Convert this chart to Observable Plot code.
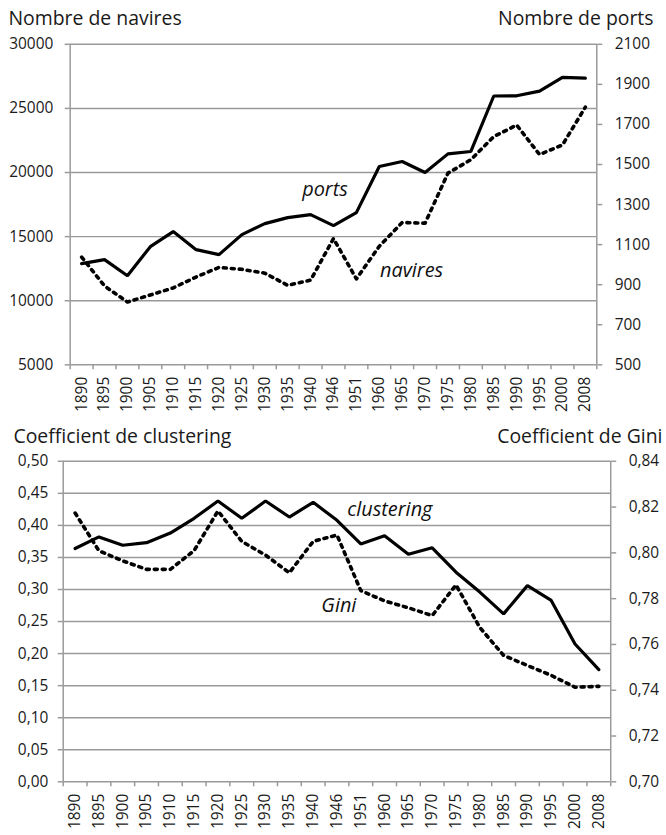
<!DOCTYPE html>
<html>
<head>
<meta charset="utf-8">
<script src="https://cdn.jsdelivr.net/npm/d3@7"></script>
<script src="https://cdn.jsdelivr.net/npm/@observablehq/plot@0.6"></script>
<style>
  html, body { margin: 0; padding: 0; background: #fff; }
  #chart { width: 663px; height: 835px; overflow: hidden; }
  #chart svg { display: block; }
</style>
</head>
<body>
<div id="chart"></div>
<script>
// Categories (x axis)
const years = ["1890","1895","1900","1905","1910","1915","1920","1925","1930","1935","1940","1946","1951","1960","1965","1970","1975","1980","1985","1990","1995","2000","2008"];

// Top chart: number of ships (left axis) and number of ports (right axis)
const navires = [13400,11150,9900,10450,11000,11850,12600,12450,12150,11200,11600,14850,11700,14250,16100,16050,19950,21000,22800,23700,21400,22150,25100];
const ports   = [1005,1025,945,1090,1165,1075,1050,1150,1205,1235,1250,1195,1260,1490,1515,1460,1553,1565,1842,1843,1866,1935,1931];

// Bottom chart: clustering coefficient (left axis) and Gini coefficient (right axis)
const clustering = [0.364,0.382,0.369,0.373,0.388,0.411,0.438,0.411,0.438,0.413,0.436,0.408,0.371,0.384,0.355,0.365,0.327,0.296,0.262,0.306,0.283,0.215,0.175];
const gini       = [0.8174,0.8009,0.7965,0.7928,0.7928,0.801,0.8183,0.805,0.799,0.7913,0.805,0.8078,0.7835,0.779,0.776,0.7726,0.786,0.7674,0.7552,0.7508,0.7465,0.7413,0.7417];

// Tick values
const naviresTicks = [5000,10000,15000,20000,25000,30000];
const portsTicks = [500,700,900,1100,1300,1500,1700,1900,2100];
const clusteringTicks = [0,0.05,0.10,0.15,0.20,0.25,0.30,0.35,0.40,0.45,0.50];
const giniTicks = [0.70,0.72,0.74,0.76,0.78,0.80,0.82,0.84];

const FONT = "'Open Sans', 'Noto Sans', sans-serif";
const GRID = "#9a9a9a";
const idx = years.map((_, i) => i);
const bounds = d3.range(years.length + 1).map(i => i - 0.5);

// right-axis mappings onto the left scale
const portsToLeft = d3.scaleLinear().domain([500, 2100]).range([5000, 30000]);
const giniToLeft = d3.scaleLinear().domain([0.70, 0.84]).range([0, 0.5]);
const comma = f => d => d3.format(f)(d).replace(".", ",");

const topData = years.map((y, i) => ({i, navires: navires[i], ports: portsToLeft(ports[i])}));
const botData = years.map((y, i) => ({i, clustering: clustering[i], gini: giniToLeft(gini[i])}));

function chart({height, mt, mb, ml, mr, yDomain, leftTicks, leftFmt, rightTicks, rightFmt, padL, padR,
                solid, dotted, titleL, titleR, tlDx, trDx, titleDy, lab1, lab2}) {
  return Plot.plot({
    width: 666,
    style: {fontFamily: FONT, fontSize: "15.5px", color: "#1a1a1a", background: "#fff", overflow: "visible"},
    height, marginTop: mt, marginBottom: mb, marginLeft: ml, marginRight: mr,
    x: {type: "linear", domain: [-0.5, years.length - 0.5], axis: null},
    y: {domain: yDomain, axis: null},
    marks: [
      Plot.ruleY(leftTicks, {stroke: GRID, strokeWidth: 1.5}),
      Plot.ruleX([-0.5, years.length - 0.5], {stroke: GRID, strokeWidth: 1.5}),
      Plot.axisY(leftTicks, {anchor: "left", tickSize: 5, tickPadding: padL, stroke: GRID, strokeWidth: 1.5, fill: "#1a1a1a", tickFormat: leftFmt, label: null}),
      Plot.axisY(rightTicks.map(rightFmt.map), {anchor: "right", tickSize: 5, tickPadding: padR, stroke: GRID, strokeWidth: 1.5, fill: "#1a1a1a", tickFormat: d => rightFmt.fmt(rightFmt.map.invert(d)), label: null}),
      Plot.axisX(bounds, {anchor: "bottom", tickSize: 5, stroke: GRID, strokeWidth: 1.5, tickFormat: () => "", label: null}),
      Plot.axisX(idx, {anchor: "bottom", tickSize: 0, tickPadding: 12, tickRotate: -90, fill: "#1a1a1a", tickFormat: d => years[d], label: null}),
      Plot.line(dotted.data, {x: "i", y: dotted.key, stroke: "#000", strokeWidth: 3.6, strokeDasharray: "3,5", curve: "linear"}),
      Plot.line(solid.data, {x: "i", y: solid.key, stroke: "#000", strokeWidth: 3.2, strokeLinejoin: "miter"}),
      Plot.text([lab1], {x: "x", y: "y", text: "t", fontStyle: "italic", fontSize: 20, fill: "#111"}),
      Plot.text([lab2], {x: "x", y: "y", text: "t", fontStyle: "italic", fontSize: 20, fill: "#111"}),
      Plot.text([titleL], {frameAnchor: "top-left", textAnchor: "start", lineAnchor: "bottom", dx: tlDx, dy: titleDy, fontSize: 19.5, fill: "#1a1a1a"}),
      Plot.text([titleR], {frameAnchor: "top-right", textAnchor: "end", lineAnchor: "bottom", dx: trDx, dy: titleDy, fontSize: 19.5, fill: "#1a1a1a"})
    ]
  });
}

const topChart = chart({
  height: 415, mt: 44, mb: 49, ml: 70, mr: 67,
  yDomain: [5000, 30000],
  leftTicks: naviresTicks, leftFmt: d => String(d), padL: 12, padR: 13,
  rightTicks: portsTicks, rightFmt: {map: portsToLeft, fmt: d => String(Math.round(d))},
  solid: {data: topData, key: "ports"}, dotted: {data: topData, key: "navires"},
  titleL: "Nombre de navires", titleR: "Nombre de ports", tlDx: -62, trDx: 57, titleDy: -19,
  lab1: {x: 10.63, y: 18700, t: "ports"}, lab2: {x: 14.41, y: 12350, t: "navires"}
});

const bottomChart = chart({
  height: 420, mt: 48, mb: 50, ml: 63, mr: 53,
  yDomain: [0, 0.5],
  leftTicks: clusteringTicks, leftFmt: comma(".2f"), padL: 10, padR: 13,
  rightTicks: giniTicks, rightFmt: {map: giniToLeft, fmt: comma(".2f")},
  solid: {data: botData, key: "clustering"}, dotted: {data: botData, key: "gini"},
  titleL: "Coefficient de clustering", titleR: "Coefficient de Gini", tlDx: -50, trDx: 52, titleDy: -18,
  lab1: {x: 13.22, y: 0.424, t: "clustering"}, lab2: {x: 11.08, y: 0.275, t: "Gini"}
});

document.getElementById("chart").append(topChart, bottomChart);
</script>
</body>
</html>
